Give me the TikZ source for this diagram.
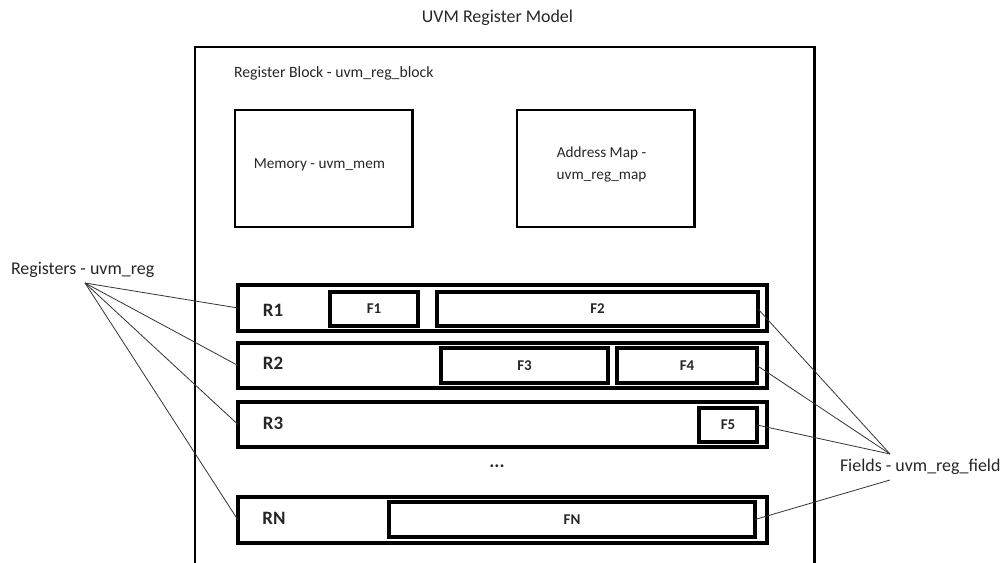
\documentclass[tikz,border=0pt]{standalone}
\usepackage{fontspec}
\setmainfont{Carlito}
\begin{document}
\begin{tikzpicture}[x=1bp,y=-1bp,
  every node/.style={inner sep=0pt, outer sep=0pt, text=black!85},
  lbl/.style={font=\fontsize{18}{21}\selectfont},
  inlbl/.style={font=\fontsize{15.3}{18}\selectfont},
  bigbox/.style={draw, line width=3pt, rectangle},
  regbox/.style={draw, line width=3.5pt, rectangle},
  fieldbox/.style={draw, line width=3.5pt, rectangle, font=\bfseries\fontsize{15}{18}\selectfont},
  rlabel/.style={font=\bfseries\fontsize{19}{22}\selectfont},
  conn/.style={draw=black!80, line width=0.8pt}]
\useasboundingbox (0,0) rectangle (1002,563);
% outer register block frame (open at bottom)
\draw[line width=3pt] (195,563) -- (195,47) -- (814,47) -- (814,563);
\node[lbl] (title) at (497.5,18) {UVM Register Model};
\node[inlbl, font=\fontsize{15.8}{18}\selectfont, anchor=west] (blk) at (234,73) {Register Block - uvm\_reg\_block};
% memory and address map
\node[bigbox, minimum width=177bp, minimum height=117bp] (mem) at (323.5,168.5) {};
\node[inlbl] (memt) at (319.5,165) {Memory - uvm\_mem};
\node[bigbox, minimum width=177bp, minimum height=117bp] (amap) at (605.5,168.5) {};
\node[inlbl, align=center] (amapt) at (601.5,164.5) {Address Map -\\[4pt]uvm\_reg\_map};
% registers
\node[regbox, minimum width=529bp, minimum height=46bp] (r1) at (502.5,308) {};
\node[regbox, minimum width=529bp, minimum height=45bp] (r2) at (502.5,365.5) {};
\node[regbox, minimum width=529bp, minimum height=45bp] (r3) at (502.5,424.5) {};
\node[regbox, minimum width=529bp, minimum height=46bp] (rn) at (502.5,520) {};
\node[rlabel] (r1t) at (273,310) {R1};
\node[rlabel] (r2t) at (273,363) {R2};
\node[rlabel] (r3t) at (273,423) {R3};
\node[rlabel] (rnt) at (274,518) {RN};
% fields
\node[fieldbox, minimum width=88bp, minimum height=34bp] (f1) at (374,309) {F1};
\node[fieldbox, minimum width=321bp, minimum height=34bp] (f2) at (597.5,309) {F2};
\node[fieldbox, minimum width=167bp, minimum height=35bp] (f3) at (524.5,365.5) {F3};
\node[fieldbox, minimum width=140bp, minimum height=35bp] (f4) at (687,365.5) {F4};
\node[fieldbox, minimum width=58bp, minimum height=34bp] (f5) at (728,425) {F5};
\node[fieldbox, minimum width=366bp, minimum height=35bp] (fn) at (572,519.5) {FN};
\node[rlabel] (dots) at (497,466) {...};
% side labels
\node[lbl, anchor=west] (regs) at (11,270) {Registers - uvm\_reg};
\node[lbl, anchor=west] (flds) at (840,467) {Fields - uvm\_reg\_field};
\coordinate (rp) at (85,283);
\coordinate (fp) at (890,454);
\coordinate (fq) at (890,480);
\draw[conn] (rp) -- (r1.west);
\draw[conn] (rp) -- (r2.west);
\draw[conn] (rp) -- (r3.west);
\draw[conn] (rp) -- (rn.west);
\draw[conn] (fp) -- (f2.east);
\draw[conn] (fp) -- (f4.east);
\draw[conn] (fp) -- (f5.east);
\draw[conn] (fq) -- (fn.east);
\end{tikzpicture}
\end{document}
